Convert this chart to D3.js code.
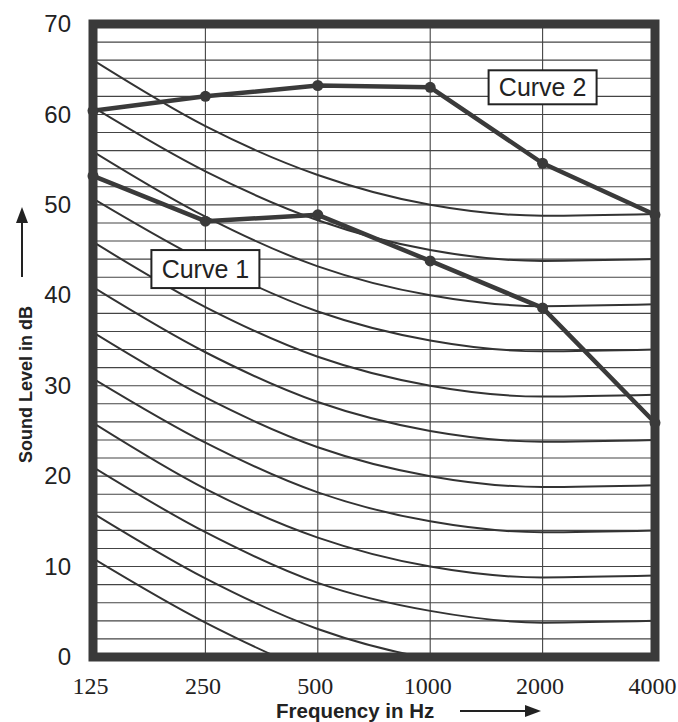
<!DOCTYPE html>
<html>
<head>
<meta charset="utf-8">
<script src="https://cdn.jsdelivr.net/npm/d3@7/dist/d3.min.js"></script>
<style>
  html, body { margin: 0; padding: 0; background: #fff; }
  svg { display: block; }
</style>
</head>
<body>
<svg id="chart" width="678" height="722"></svg>
<script>
// ---------- DATA ----------
const frequencies = [125, 250, 500, 1000, 2000, 4000];
const xTickLabels = [125, 250, 500, 1000, 2000, 4000];
const yTickLabels = [0, 10, 20, 30, 40, 50, 60, 70];
const gridFrequencies = [250, 500, 1000, 2000];

// Family of thin reference curves (values in dB at each frequency)
const ref50 = [66.0, 58.7, 53.3, 50.0, 48.8, 49.0];
const ref45 = [60.8, 53.7, 48.3, 45.0, 43.8, 44.0];
const ref40 = [55.9, 48.7, 43.2, 40.0, 38.8, 39.0];
const ref35 = [50.7, 43.7, 38.2, 35.0, 33.8, 34.0];
const ref30 = [45.9, 38.7, 33.2, 30.0, 28.8, 29.0];
const ref25 = [40.9, 33.7, 28.2, 25.0, 23.8, 24.0];
const ref20 = [35.9, 28.7, 23.2, 20.0, 18.8, 19.0];
const ref15 = [30.8, 23.7, 18.2, 15.0, 13.8, 14.0];
const ref10 = [25.9, 18.6, 13.2, 10.0, 8.8, 9.0];
const ref05 = [21.0, 13.8, 8.2, 5.1, 3.8, 4.0];
const ref00 = [15.9, 8.7, 3.1, -0.2, -1.5, -1.3];
const refM5 = [10.9, 3.8, -1.8, -5.0, -6.2, -6.0];
const referenceCurves = [ref50, ref45, ref40, ref35, ref30, ref25, ref20, ref15, ref10, ref05, ref00, refM5];

// Measured curves
const curve1 = [53.2, 48.2, 48.9, 43.8, 38.6, 25.9];
const curve2 = [60.4, 62.0, 63.2, 63.0, 54.6, 48.9];
const curveLabels = ["Curve 1", "Curve 2"];
const curveLabelFreq = [250, 2000];
const curveLabelLevel = [42.9, 63.0];

// ---------- LAYOUT ----------
const svg = d3.select("#chart");
const x = d3.scaleLog().base(2).domain([125, 4000]).range([93, 655]);
const y = d3.scaleLinear().domain([0, 70]).range([657, 24]);
const ink = "#3a3a3a";

svg.append("defs").append("clipPath").attr("id", "plotclip")
  .append("rect")
  .attr("x", x(125)).attr("y", y(70))
  .attr("width", x(4000) - x(125)).attr("height", y(0) - y(70));

// Grid
const grid = svg.append("g").attr("stroke", "#444").attr("stroke-width", 1.1);
grid.selectAll("line.h").data(d3.range(2, 70, 2)).join("line")
  .attr("x1", x(125)).attr("x2", x(4000))
  .attr("y1", d => y(d)).attr("y2", d => y(d));
grid.selectAll("line.v").data(gridFrequencies).join("line")
  .attr("x1", d => x(d)).attr("x2", d => x(d))
  .attr("y1", y(0)).attr("y2", y(70));

const plot = svg.append("g").attr("clip-path", "url(#plotclip)");

// Thin reference curves
const smoothLine = d3.line()
  .x((d, i) => x(frequencies[i]))
  .y(d => y(d))
  .curve(d3.curveMonotoneX);
plot.selectAll("path.ref").data(referenceCurves).join("path")
  .attr("class", "ref")
  .attr("d", smoothLine)
  .attr("fill", "none")
  .attr("stroke", "#333")
  .attr("stroke-width", 2);

// Thick measured curves
const straightLine = d3.line()
  .x((d, i) => x(frequencies[i]))
  .y(d => y(d));
[curve1, curve2].forEach(c => {
  svg.append("path")
    .attr("d", straightLine(c))
    .attr("fill", "none")
    .attr("stroke", ink)
    .attr("stroke-width", 4.5)
    .attr("stroke-linejoin", "round");
  svg.append("g").selectAll("circle").data(c).join("circle")
    .attr("cx", (d, i) => x(frequencies[i]))
    .attr("cy", d => y(d))
    .attr("r", 5.5)
    .attr("fill", ink);
});

// Curve labels (boxed)
curveLabels.forEach((lab, i) => {
  const g = svg.append("g")
    .attr("transform", `translate(${x(curveLabelFreq[i])},${y(curveLabelLevel[i])})`);
  const rect = g.append("rect").attr("fill", "#fff").attr("stroke", "#222").attr("stroke-width", 2);
  g.append("text")
    .attr("text-anchor", "middle")
    .attr("dy", "0.36em")
    .attr("font-family", "'Liberation Sans', Arial, sans-serif")
    .attr("font-size", 25)
    .attr("fill", "#222")
    .text(lab);
  rect.attr("x", -54).attr("width", 108)
    .attr("y", -17 - (i === 0 ? 2 : 0)).attr("height", 34 + (i === 0 ? 4 : 0));
});

// Frame
svg.append("rect")
  .attr("x", x(125)).attr("y", y(70))
  .attr("width", x(4000) - x(125)).attr("height", y(0) - y(70))
  .attr("fill", "none").attr("stroke", ink).attr("stroke-width", 9);

// Y axis
const yAxis = svg.append("g")
  .attr("transform", `translate(${x(125)},0)`)
  .call(d3.axisLeft(y).tickValues(yTickLabels).tickSize(0).tickPadding(22));
yAxis.select(".domain").remove();
yAxis.selectAll("text")
  .attr("font-family", "'Liberation Sans', Arial, sans-serif")
  .attr("font-size", 24)
  .attr("fill", "#222");

// X axis
const xAxis = svg.append("g")
  .attr("transform", `translate(0,${y(0)})`)
  .call(d3.axisBottom(x).tickValues(xTickLabels).tickFormat(d3.format("d")).tickSize(0).tickPadding(20));
xAxis.select(".domain").remove();
xAxis.selectAll("text")
  .attr("font-family", "'Liberation Serif', 'Times New Roman', serif")
  .attr("font-size", 24)
  .attr("dx", -3)
  .attr("fill", "#222");

// Axis titles
svg.append("text")
  .attr("x", 276).attr("y", 718)
  .attr("font-family", "'Liberation Sans', Arial, sans-serif")
  .attr("font-weight", "bold")
  .attr("font-size", 20.5)
  .attr("fill", "#222")
  .text("Frequency in Hz");
svg.append("line").attr("x1", 460).attr("x2", 527).attr("y1", 711).attr("y2", 711)
  .attr("stroke", "#222").attr("stroke-width", 2);
svg.append("path").attr("d", "M525,705 L541,711 L525,717 Z").attr("fill", "#222");

svg.append("text")
  .attr("transform", "translate(32,463) rotate(-90)")
  .attr("font-family", "'Liberation Sans', Arial, sans-serif")
  .attr("font-weight", "bold")
  .attr("font-size", 18)
  .attr("fill", "#222")
  .text("Sound Level  in dB");
svg.append("line").attr("x1", 22).attr("x2", 22).attr("y1", 277).attr("y2", 220)
  .attr("stroke", "#222").attr("stroke-width", 2);
svg.append("path").attr("d", "M16,223 L22,207 L28,223 Z").attr("fill", "#222");
</script>
</body>
</html>
